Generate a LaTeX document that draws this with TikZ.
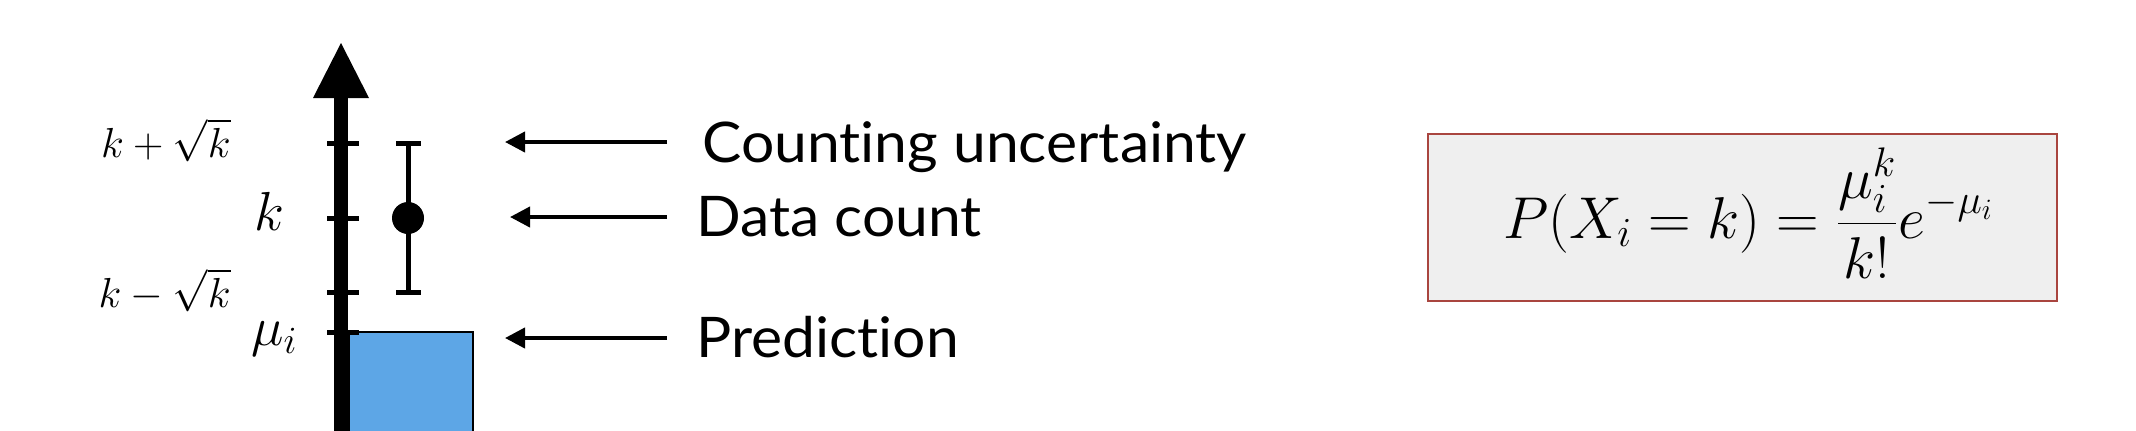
\RequirePackage{fix-cm}
\documentclass[tikz,border=0pt]{standalone}
\usepackage{fontspec}
\newfontfamily\lblfont[FakeStretch=1.05,Ligatures=NoCommon]{Lato}
\usetikzlibrary{arrows.meta}
\definecolor{barblue}{HTML}{5DA6E6}
\definecolor{boxfill}{HTML}{EFEFEF}
\definecolor{boxline}{HTML}{A9453F}
\begin{document}
\begin{tikzpicture}[x=0.5pt,y=-0.5pt,
  lbl/.style={inner sep=0pt, font=\lblfont\fontsize{28}{33}\selectfont},
  smallmath/.style={inner sep=0pt, font=\fontsize{21}{25}\selectfont},
  bigmath/.style={inner sep=0pt, font=\fontsize{27.5}{32}\selectfont},
  tickmark/.style={line width=2.5pt},
  ebar/.style={line width=2.5pt},
  arr/.style={line width=2pt, -{Triangle[length=10pt,width=10pt]}},
  formbox/.style={draw=boxline, fill=boxfill, line width=0.8pt, inner sep=0pt,
    minimum width=314.5pt, minimum height=83.5pt}]
\useasboundingbox (0,0) rectangle (2136,430);
% prediction bar
\filldraw[fill=barblue, draw=black, line width=1pt] (349,332) rectangle (473,440);
% axis
\draw[line width=7pt] (341,440) -- (341,95);
\fill (341,43) -- (369,98) -- (313,98) -- cycle;
% ticks
\draw[tickmark] (327,143) -- (359,143);
\draw[tickmark] (327,218) -- (359,218);
\draw[tickmark] (327,292) -- (359,292);
\draw[tickmark] (327,332) -- (359,332);
% error bar
\draw[ebar] (408,143) -- (408,292);
\draw[ebar] (396,143) -- (421,143);
\draw[ebar] (396,292) -- (421,292);
\fill (408,218) circle (8pt);
% axis labels
\node[smallmath, anchor=base east] (kp) at (231,157) {$k+\sqrt{k}$};
\node[bigmath, anchor=base east] (k) at (285,230) {$k$};
\node[smallmath, anchor=base east] (km) at (231,307) {$k-\sqrt{k}$};
\node[bigmath, anchor=base east] (mu) at (298,345) {$\mu_i$};
% annotations
\node[lbl, anchor=base west] (cu) at (702,162) {Counting uncertainty};
\node[lbl, anchor=base west] (dc) at (696,236) {Data count};
\node[lbl, anchor=base west] (pr) at (696,357) {Prediction};
\coordinate (cus) at (667,142); \coordinate (cut) at (505,142);
\coordinate (dcs) at (667,217); \coordinate (dct) at (510,217);
\coordinate (prs) at (667,338); \coordinate (prt) at (505,338);
\draw[arr] (cus) -- (cut);
\draw[arr] (dcs) -- (dct);
\draw[arr] (prs) -- (prt);
% formula
\node[formbox] (box) at (1742.5,217.5) {};
\node[inner sep=0pt, anchor=base, font=\fontsize{29.5}{35}\selectfont] (f) at (1748.5,238)
  {$\displaystyle P(X_i=k)=\frac{\mu_i^k}{k!}e^{-\mu_i}$};
\end{tikzpicture}
\end{document}
